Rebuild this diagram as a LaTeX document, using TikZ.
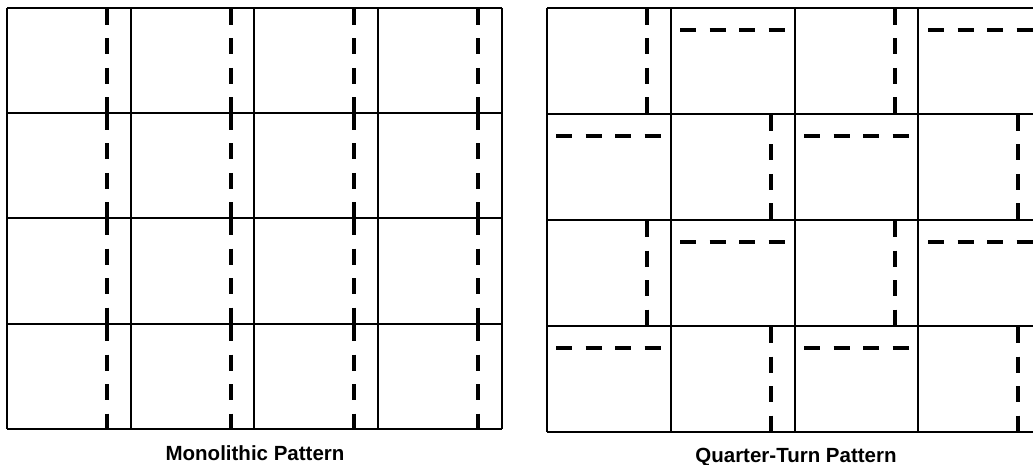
\documentclass[tikz,border=0pt]{standalone}
\usepackage{fontspec}
\setmainfont{Liberation Sans}
\begin{document}
\begin{tikzpicture}[x=1pt,y=-1pt,
  gridline/.style={line width=2pt, black},
  dashline/.style={line width=4pt, black, dash pattern=on 16pt off 13.5pt},
  lbl/.style={font=\fontsize{20.5}{24}\selectfont\bfseries, inner sep=0pt, anchor=base}]
\useasboundingbox (0,0) rectangle (1033,465);
\fill[white] (0,0) rectangle (1033,465);
\begin{scope}
\clip (0,0) rectangle (1033,465);
% ---------- left grid (Monolithic) ----------
\foreach \x in {7,131,254,378,502} {
  \draw[gridline] (\x,8) -- (\x,429);
}
\foreach \y in {8,113,218,324,429} {
  \draw[gridline] (7,\y) -- (502,\y);
}
\foreach \x in {107,231,354,478} {
  \foreach \ya/\yb in {8/113,113/218,218/324,324/429} {
    \draw[dashline] (\x,\ya+1) -- (\x,\yb);
  }
}
% ---------- right grid (Quarter-Turn) ----------
\foreach \x in {547,671,795,918,1042} {
  \draw[gridline] (\x,8) -- (\x,432);
}
\foreach \y in {8,114,220,326,432} {
  \draw[gridline] (547,\y) -- (1042,\y);
}
% vertical dashed segments (x / top / bottom)
\foreach \x/\ya/\yb in {647/8/114, 895/8/114, 771/114/220, 1018/114/220,
                        647/220/326, 895/220/326, 771/326/432, 1018/326/432} {
  \draw[dashline] (\x,\ya+1) -- (\x,\yb);
}
% horizontal dashed segments (left / right / y)
\foreach \xa/\xb/\y in {680/785/30, 928/1033/30, 556/661/136, 804/909/136,
                        680/785/242, 928/1033/242, 556/661/348, 804/909/348} {
  \draw[dashline] (\xa,\y) -- (\xb,\y);
}
\end{scope}
% ---------- labels ----------
\node[lbl] (mono) at (255,460) {Monolithic Pattern};
\node[lbl] (quarter) at (796,462) {Quarter-Turn Pattern};
\end{tikzpicture}
\end{document}
